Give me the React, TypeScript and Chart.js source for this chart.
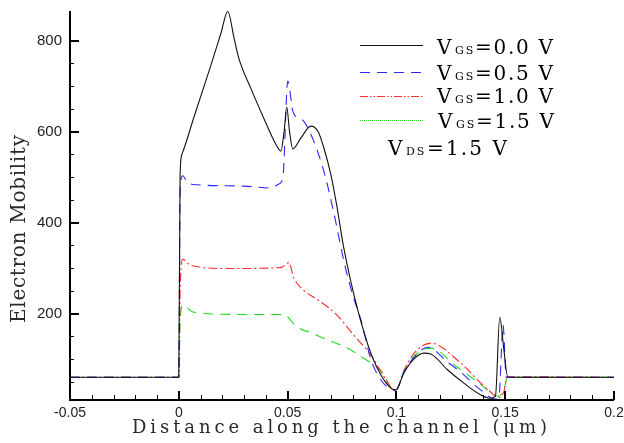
import React, { useEffect, useRef } from 'react';
import { Chart, registerables } from 'chart.js';

Chart.register(...registerables);

// ---- data ----
const xTickValues = [-0.05, 0, 0.05, 0.1, 0.15, 0.2];
const xTickLabels = ['-0.05', '0', '0.05', '0.1', '0.15', '0.2'];
const yTickValues = [200, 400, 600, 800];
const yTickLabels = ['200', '400', '600', '800'];

const vgsValues = ['0.0', '0.5', '1.0', '1.5'];
const vdsValue = '1.5';

const vgs00X = [-0.05, 0, 0.0006, 0.0015, 0.0069, 0.0147, 0.0193, 0.0225, 0.0255, 0.0276, 0.0331, 0.039, 0.0446, 0.0469, 0.0484, 0.0496, 0.0509, 0.0524, 0.056, 0.0607, 0.064, 0.0666, 0.0699, 0.0725, 0.0758, 0.0823, 0.0896, 0.0997, 0.1035, 0.108, 0.1126, 0.1158, 0.1236, 0.131, 0.1388, 0.143, 0.1455, 0.1475, 0.1494, 0.1512, 0.2];
const vgs00Y = [60, 60, 507, 551, 631, 745, 815, 864, 803, 761, 695, 630, 572, 557, 600, 654, 600, 562, 585, 612, 600, 565, 505, 440, 345, 207, 97, 32, 70, 100, 113, 111, 76, 47, 21, 14, 18, 192, 120, 60, 60];

const vgs05X = [-0.05, 0, 0.0006, 0.0018, 0.004, 0.0087, 0.03, 0.0423, 0.046, 0.0478, 0.0501, 0.0524, 0.0547, 0.0574, 0.062, 0.067, 0.0717, 0.0763, 0.08, 0.084, 0.0887, 0.0997, 0.1035, 0.108, 0.1144, 0.1236, 0.1296, 0.138, 0.1455, 0.1472, 0.149, 0.1505, 0.2];
const vgs05Y = [60, 60, 470, 503, 488, 483, 480, 476, 485, 498, 711, 645, 630, 623, 579, 507, 411, 306, 240, 181, 93, 32, 72, 103, 126, 93, 71, 35, 12, 20, 175, 60, 60];

const vgs10X = [-0.05, 0, 0.0006, 0.0018, 0.0055, 0.0225, 0.0469, 0.0506, 0.0528, 0.0574, 0.063, 0.072, 0.08, 0.089, 0.0935, 0.0995, 0.104, 0.108, 0.1158, 0.1296, 0.1388, 0.1434, 0.147, 0.1495, 0.151, 0.2];
const vgs10Y = [60, 60, 250, 319, 306, 299, 301, 312, 279, 251, 233, 200, 155, 104, 68, 30, 80, 112, 135, 91, 47, 27, 15, 30, 61, 60];

const vgs15X = [-0.05, 0, 0.0006, 0.0018, 0.0069, 0.03, 0.0483, 0.0528, 0.0547, 0.0611, 0.0685, 0.0767, 0.0846, 0.0928, 0.0995, 0.104, 0.108, 0.1158, 0.128, 0.1374, 0.142, 0.147, 0.1495, 0.151, 0.2];
const vgs15Y = [60, 60, 180, 218, 203, 198, 198, 178, 170, 157, 142, 126, 103, 75, 30, 78, 106, 124, 82, 49, 32, 18, 35, 60, 60];

const toPoints = (xs: number[], ys: number[]) => xs.map((x, i) => ({ x, y: ys[i] }));

const COLORS = ['#111111', '#2a2aff', '#ff2a2a', '#1fdc1f'];
const PLOT_DASH = [[], [10, 7], [9, 3, 2, 3], [10, 7]];
const LEGEND_DASH = [[], [10, 7], [8, 2, 1.5, 2, 1.5, 2], [1, 1]];

const SERIF = '"DejaVu Serif", serif';
const TITLE_COLOR = '#2a2a2a';

function fitText(ctx: CanvasRenderingContext2D, text: string, x: number, y: number, width: number, font: string) {
  ctx.font = font;
  (ctx as any).letterSpacing = '0px';
  const w = ctx.measureText(text).width;
  const n = Array.from(text).length;
  const ls = n > 1 ? (width - w) / (n - 1) : 0;
  (ctx as any).letterSpacing = ls + 'px';
  ctx.textAlign = 'left';
  ctx.fillText(text, x, y);
  (ctx as any).letterSpacing = '0px';
}

const decor = {
  id: 'decor',
  beforeDraw(chart: any) {
    const ctx = chart.ctx;
    ctx.save();
    ctx.fillStyle = '#ffffff';
    ctx.fillRect(0, 0, chart.width, chart.height);
    ctx.restore();
  },
  afterDraw(chart: any) {
    const ctx: CanvasRenderingContext2D = chart.ctx;
    const { left, right, top, bottom } = chart.chartArea;
    const xs = chart.scales.x;
    const ys = chart.scales.y;
    ctx.save();
    ctx.strokeStyle = '#000';
    ctx.setLineDash([]);
    // axes
    ctx.lineWidth = 2;
    ctx.beginPath();
    ctx.moveTo(left, top);
    ctx.lineTo(left, bottom + 1);
    ctx.moveTo(left - 1, bottom);
    ctx.lineTo(right, bottom);
    ctx.stroke();
    // x ticks
    for (let i = -5; i <= 20; i++) {
      const v = i / 100;
      const px = Math.round(xs.getPixelForValue(v));
      const major = i % 5 === 0;
      ctx.lineWidth = major ? 2 : 1;
      ctx.beginPath();
      const xx = major ? px : px + 0.5;
      ctx.moveTo(xx, bottom);
      ctx.lineTo(xx, bottom - (major ? 9 : 5));
      ctx.stroke();
    }
    // y ticks
    for (let v = 50; v <= 800; v += 50) {
      const py = Math.round(ys.getPixelForValue(v));
      const major = v % 200 === 0;
      ctx.lineWidth = major ? 2 : 1;
      ctx.beginPath();
      const yy = major ? py : py + 0.5;
      ctx.moveTo(left, yy);
      ctx.lineTo(left + (major ? 9 : 4), yy);
      ctx.stroke();
    }
    // axis titles
    ctx.fillStyle = TITLE_COLOR;
    ctx.textBaseline = 'alphabetic';
    fitText(ctx, 'Distance along the channel (\u03bcm)', 132, 433, 415, '18px ' + SERIF);
    ctx.save();
    ctx.translate(25, 323);
    ctx.rotate(-Math.PI / 2);
    fitText(ctx, 'Electron Mobility', 0, 0, 188, '20px ' + SERIF);
    ctx.restore();

    // legend
    const lineYs = [45, 72, 96, 120];
    const baseYs = [54, 80, 103, 128];
    const textXs = [437, 437, 437, 438];
    for (let i = 0; i < vgsValues.length; i++) {
      ctx.strokeStyle = COLORS[i];
      ctx.lineWidth = 1;
      ctx.setLineDash(LEGEND_DASH[i]);
      ctx.beginPath();
      ctx.moveTo(360, lineYs[i] + 0.5);
      ctx.lineTo(423, lineYs[i] + 0.5);
      ctx.stroke();
      ctx.setLineDash([]);
      ctx.fillStyle = '#000';
      const tx = textXs[i];
      ctx.font = '20px ' + SERIF;
      ctx.textAlign = 'left';
      ctx.fillText('V', tx, baseYs[i]);
      ctx.font = '11px ' + SERIF;
      (ctx as any).letterSpacing = '2px';
      ctx.fillText('GS', tx + 18, baseYs[i]);
      (ctx as any).letterSpacing = '0px';
      fitText(ctx, '=' + vgsValues[i] + ' V', tx + 38, baseYs[i], 78, '20px ' + SERIF);
    }
    ctx.font = '20px ' + SERIF;
    ctx.fillText('V', 388, 155);
    ctx.font = '11px ' + SERIF;
    (ctx as any).letterSpacing = '2px';
    ctx.fillText('DS', 406, 155);
    (ctx as any).letterSpacing = '0px';
    fitText(ctx, '=' + vdsValue + ' V', 427, 155, 80, '20px ' + SERIF);
    ctx.restore();
  },
};

export default function App() {
  const ref = useRef<HTMLCanvasElement | null>(null);
  useEffect(() => {
    if (!ref.current) return;
    const series = [
      toPoints(vgs00X, vgs00Y),
      toPoints(vgs05X, vgs05Y),
      toPoints(vgs10X, vgs10Y),
      toPoints(vgs15X, vgs15Y),
    ];
    const chart = new Chart(ref.current, {
      type: 'line',
      data: {
        datasets: series.map((data, i) => ({
          label: 'VGS=' + vgsValues[i] + ' V',
          data,
          borderColor: COLORS[i],
          borderWidth: 1.1,
          borderDash: PLOT_DASH[i],
          pointRadius: 0,
          fill: false,
          cubicInterpolationMode: 'monotone' as const,
        })),
      },
      options: {
        animation: false,
        responsive: false,
        events: [],
        layout: { padding: { top: 11, right: 10, left: 0, bottom: 0 } },
        plugins: { legend: { display: false }, tooltip: { enabled: false } },
        scales: {
          x: {
            type: 'linear',
            min: -0.05,
            max: 0.2,
            grid: { display: false, drawTicks: false },
            border: { display: false },
            afterBuildTicks: (s: any) => { s.ticks = xTickValues.map((v) => ({ value: v })); },
            afterFit: (s: any) => {
              s.height = 43;
              s.paddingLeft = 0; s.paddingRight = 0; s.paddingTop = 0; s.paddingBottom = 0;
            },
            ticks: {
              autoSkip: false,
              maxRotation: 0,
              padding: 5,
              color: '#222',
              font: { family: '"Liberation Sans", Arial, sans-serif', size: 14 },
              callback: (_v: any, i: number) => xTickLabels[i],
            },
          },
          y: {
            type: 'linear',
            min: 10,
            max: 865,
            grid: { display: false, drawTicks: false },
            border: { display: false },
            afterBuildTicks: (s: any) => { s.ticks = yTickValues.map((v) => ({ value: v })); },
            afterFit: (s: any) => {
              s.width = 70;
              s.paddingLeft = 0; s.paddingRight = 0; s.paddingTop = 0; s.paddingBottom = 0;
            },
            ticks: {
              autoSkip: false,
              padding: 8,
              color: '#222',
              font: { family: '"Liberation Sans", Arial, sans-serif', size: 15 },
              callback: (_v: any, i: number) => yTickLabels[i],
            },
          },
        },
      },
      plugins: [decor],
    });
    return () => chart.destroy();
  }, []);
  return (
    <div style={{ position: 'fixed', left: 0, top: 0, width: 624, height: 443, background: '#fff' }}>
      <canvas ref={ref} width={624} height={443} style={{ width: 624, height: 443, display: 'block' }} />
    </div>
  );
}
